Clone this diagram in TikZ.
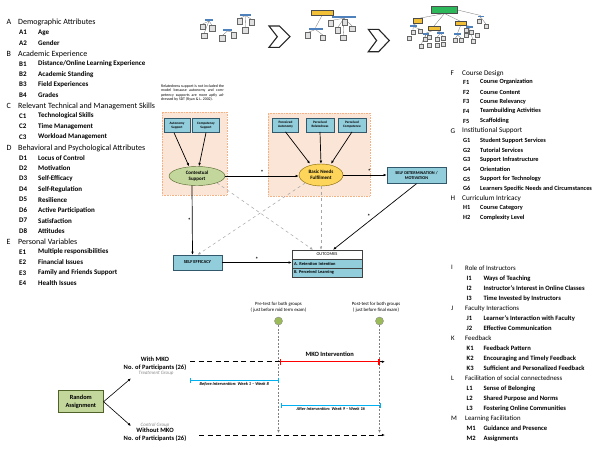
\documentclass[tikz,border=0pt]{standalone}
\usepackage{fontspec}
\setmainfont{Carlito}
\usetikzlibrary{arrows.meta, shapes.geometric}

\definecolor{peach}{HTML}{FBE5D6}
\definecolor{peachline}{HTML}{F4B183}
\definecolor{boxblue}{HTML}{92CDDC}
\definecolor{boxline}{HTML}{31596B}
\definecolor{ctxgreen}{HTML}{C3D69B}
\definecolor{ctxline}{HTML}{4F6228}
\definecolor{needyellow}{HTML}{FCD55A}
\definecolor{needline}{HTML}{7F6000}
\definecolor{barblue}{HTML}{4F81BD}
\definecolor{baryellow}{HTML}{F2C037}
\definecolor{bargreen}{HTML}{2EB85C}
\definecolor{periodcyan}{HTML}{00B0F0}
\definecolor{testgreen}{HTML}{9BBB59}

\begin{document}
\begin{tikzpicture}[
        x=1pt, y=-1pt,
        >={Latex[length=3.2pt,width=2.6pt]},
        head/.style={anchor=west, inner sep=0pt, font=\fontsize{8}{9}\selectfont},
        item/.style={anchor=west, inner sep=0pt, font=\fontsize{7}{8}\selectfont\bfseries},
        rhead/.style={head, font=\fontsize{7.2}{8}\selectfont},
        ritem/.style={item, font=\fontsize{6.3}{7}\selectfont\bfseries},
        lhead/.style={head, font=\fontsize{6.8}{7.5}\selectfont},
        litem/.style={item, font=\fontsize{6.6}{7.5}\selectfont\bfseries},
        minibox/.style={draw=black!60, fill=black!12, line width=0.5pt},
        minibar/.style={fill=barblue},
        twig/.style={draw=black!55, line width=0.3pt},
        chevron/.style={draw=black!85, fill=white, line width=1.1pt, line join=miter},
        region/.style={rectangle, draw=peachline, fill=peach, densely dotted, line width=0.6pt},
        note/.style={anchor=north west, inner sep=0pt, text width=63pt, align=justify, font=\fontsize{3.9}{4.5}\selectfont},
        pbox/.style={rectangle, draw=boxline, fill=boxblue, minimum height=14, inner sep=0.5pt, align=center, font=\fontsize{3.4}{4}\selectfont\bfseries},
        obox/.style={rectangle, draw=boxline, fill=boxblue, inner sep=0.5pt, align=center, font=\fontsize{4.3}{5}\selectfont\bfseries},
        ctxnode/.style={ellipse, draw=ctxline, fill=ctxgreen, inner sep=0pt, align=center, font=\fontsize{5}{5.8}\selectfont\bfseries},
        neednode/.style={ellipse, draw=needline, fill=needyellow, inner sep=0pt, align=center, font=\fontsize{5}{5.8}\selectfont\bfseries},
        outrow/.style={rectangle, draw=black!75, fill=boxblue, minimum height=9, text width=66pt, inner sep=2pt, align=left, font=\fontsize{4.4}{5}\selectfont\bfseries},
        sig/.style={inner sep=1pt, font=\fontsize{6}{6}\selectfont\bfseries},
        path/.style={->, line width=0.7pt},
        dpath/.style={->, dashed, draw=black!35, line width=0.5pt},
        rand/.style={rectangle, draw=ctxline, fill=ctxgreen, line width=0.6pt, minimum width=45, minimum height=22, align=center, font=\fontsize{6.3}{7.5}\selectfont\bfseries},
        grp/.style={align=center, inner sep=0pt, font=\fontsize{6.5}{8}\selectfont\bfseries},
        tag/.style={inner sep=0pt, text=black!45, font=\fontsize{5}{6}\selectfont\itshape},
        phase/.style={->, line width=1pt, dash pattern=on 5pt off 3.5pt},
        test/.style={circle, draw=black!45, fill=testgreen, minimum size=8, inner sep=0pt},
        testlab/.style={align=center, inner sep=0pt, font=\fontsize{4.8}{6.7}\selectfont},
        vline/.style={->, draw=black!50, line width=0.5pt, dash pattern=on 2pt off 1.5pt},
        mko/.style={{Bar[width=6pt]}-{Bar[width=6pt]}, draw=red, line width=1.3pt},
        period/.style={{Bar[width=5pt]}-{Bar[width=5pt]}, draw=periodcyan, line width=0.9pt},
        periodlab/.style={inner sep=1.5pt, font=\fontsize{4.4}{5}\selectfont\bfseries\itshape}
    ]
        \path[use as bounding box, fill=white] (0,0) rectangle (600,456);

        % left list: factors A-E
        \foreach \k/\t/\y in {A/Demographic Attributes/22, B/Academic Experience/54, C/Relevant Technical and Management Skills/106, D/Behavioral and Psychological Attributes/148, E/Personal Variables/241.5}
            {\node[head] (\k) at (6.5,\y) {\k}; \node[head] (\k-t) at (18,\y) {\t};}
        \foreach \k/\t/\y in {A1/Age/32.5, A2/Gender/43, B1/{Distance/Online Learning Experience}/64, B2/Academic Standing/74.3, B3/Field Experiences/84.5, B4/Grades/95, C1/Technological Skills/116, C2/Time Management/126.5, C3/Workload Management/137, D1/Locus of Control/158, D2/Motivation/168.3, D3/Self-Efficacy/178.7, D4/Self-Regulation/189.3, D5/Resilience/199.7, D6/Active Participation/210.3, D7/Satisfaction/220.7, D8/Attitudes/231, E1/Multiple responsibilities/252, E2/Financial Issues/262.5, E3/Family and Friends Support/273, E4/Health Issues/283.5}
            {\node[item] (\k) at (19,\y) {\k}; \node[item] (\k-t) at (38,\y) {\t};}

        % right list: factors F-H
        \foreach \k/\t/\y in {F/Course Design/73.3, G/Institutional Support/130.7, H/Curriculum Intricacy/198.3}
            {\node[rhead] (\k) at (450.5,\y) {\k}; \node[rhead] (\k-t) at (462,\y) {\t};}
        \foreach \k/\t/\y in {F1/Course Organization/82.3, F2/Course Content/92, F3/Course Relevancy/101.7, F4/Teambuilding Activities/111.3, F5/Scaffolding/121, G1/Student Support Services/140.3, G2/Tutorial Services/150, G3/Support Infrastructure/159.7, G4/Orientation/169.3, G5/Support for Technology/179, G6/Learners Specific Needs and Circumstances/188.5, H1/Course Category/207.7, H2/Complexity Level/217.3}
            {\node[ritem] (\k) at (463,\y) {\k}; \node[ritem] (\k-t) at (480,\y) {\t};}

        % right list: factors I-M
        \foreach \k/\t/\y in {I/Role of Instructors/267.7, J/Faculty Interactions/308.3, K/Feedback/338.3, L/Facilitation of social connectedness/378.3, M/Learning Facilitation/418.3}
            {\node[lhead] (\k) at (451,\y) {\k}; \node[lhead] (\k-t) at (465,\y) {\t};}
        \foreach \k/\t/\y in {I1/Ways of Teaching/278.3, I2/Instructor's Interest in Online Classes/288.3, I3/Time Invested by Instructors/298.3, J1/Learner's Interaction with Faculty/318.3, J2/Effective Communication/328.3, K1/Feedback Pattern/348.3, K2/Encouraging and Timely Feedback/358.3, K3/Sufficient and Personalized Feedback/368.3, L1/Sense of Belonging/388.3, L2/Shared Purpose and Norms/398.3, L3/Fostering Online Communities/408.3, M1/Guidance and Presence/428.3, M2/Assignments/438.3}
            {\node[litem] (\k) at (466.5,\y) {\k}; \node[litem] (\k-t) at (483.3,\y) {\t};}

        % top: grouping icons
        \foreach \a/\b/\c/\d in {209/21/202.75/24, 209/21/212.25/25.5, 209/21/204.25/33, 227.5/31/222.25/35.5, 227.5/31/233.75/32.5, 245.5/15.5/239.75/18.5, 245.5/15.5/251.75/19.5, 245.5/15.5/245.25/27.5, 322/15.5/315.5/27.5, 344/18.3/330.75/20.5, 344/18.3/344.75/19.5, 344/18.3/337.75/27.5, 344/18.3/352.25/26, 344/18.3/343.25/35, 315.5/29.5/307.75/32.5, 315.5/29.5/322.75/35}
            \draw[twig] (\a,\b) -- (\c,\d);
        \foreach \a/\b in {200/24, 209.5/25.5, 201.5/33, 219.5/35.5, 231/32.5, 237/18.5, 249/19.5, 242.5/27.5, 328/20.5, 342/19.5, 335/27.5, 349.5/26, 340.5/35, 305/32.5, 320/35}
            \draw[minibox] (\a,\b) rectangle +(5.5,5.5);
        \foreach \a/\b/\w in {205/19/8, 223/29/9, 240/13.5/11, 332/16/24, 308.5/27.5/14}
            \fill[minibar] (\a,\b) rectangle +(\w,2.2);
        \draw[draw=black!70, fill=baryellow] (311,10) rectangle +(22,5.5);
        \draw[chevron] (269,26) -- (279.3,26) -- (290,36.7) -- (279.3,47.3) -- (269,47.3) -- (277.3,36.7) -- cycle;
        \draw[chevron] (368.3,29.3) -- (378.6,29.3) -- (389.3,40.5) -- (378.6,51.7) -- (368.3,51.7) -- (376.6,40.5) -- cycle;
        \foreach \a/\b/\c/\d in {444.5/13.5/418/18.5, 444.5/13.5/434/26, 444.5/13.5/460.75/21.5, 457.5/10/480.75/15.5, 418/23/413.25/25, 434/30/425.75/33.3, 434/30/440.25/31.7, 460.75/25/457.5/33.3, 460.75/25/469.25/26, 413.25/26.7/413/30, 413.25/26.7/419.7/29, 425.75/35/425.3/37.3, 425.75/35/421.3/44, 440.25/33.3/437/37.3, 440.25/33.3/442.7/36, 457.5/35/455.3/38.3, 457.5/35/461.3/38.3, 469.25/27.3/466/28.3, 469.25/27.3/472.7/39.3, 480.75/17.3/479.5/19.3, 480.75/17.3/486/24}
            \draw[twig] (\a,\b) -- (\c,\d);
        \foreach \a/\b in {411/30, 417.7/29, 406.7/36.5, 423.3/37.3, 427.3/35, 419.3/44, 427.3/43.3, 435/37.3, 440.7/36, 435/42.7, 440.7/41.7, 453.3/38.3, 459.3/38.3, 464/28.3, 469.3/30, 464/33.3, 470.7/39.3, 475/32.7, 477.3/19.3, 484/24}
            \draw[minibox, line width=0.4pt] (\a,\b) rectangle +(4,4);
        \foreach \a/\b/\w in {477.5/15.5/6.5, 410/25/6.5, 422.5/33.3/6.5, 436.5/31.7/7.5, 454.3/33.3/6.5, 466/26/6.5}
            \fill[minibar] (\a,\b) rectangle +(\w,1.8);
        \foreach \a/\b/\w/\h in {413.5/18.5/9/4.5, 428/26/12/4, 455/21.5/11.5/3.5}
            \draw[draw=black!70, fill=baryellow, line width=0.4pt] (\a,\b) rectangle +(\w,\h);
        \draw[draw=black!70, fill=bargreen, line width=0.5pt] (431.5,6) rectangle +(26,7.5);

        % model: regions and note
        \node[region, minimum width=65, minimum height=83] (ctxreg) at (194.5,153.5) {};
        \node[region, minimum width=102, minimum height=83] (needreg) at (319,154.5) {};
        \node[note] (relnote) at (161,84.5) {Relatedness support is not included the model because autonomy and competency supports are more aptly addressed by SDT (Ryan \& L. 2002).};

        % model: constructs
        \node[pbox, minimum width=26] (asup) at (177,125.5) {Autonomy\\Support};
        \node[pbox, minimum width=27] (csup) at (206,125.5) {Competency\\Support};
        \node[pbox, minimum width=26] (pauto) at (285.5,124.7) {Perceived\\Autonomy};
        \node[pbox, minimum width=28] (prel) at (320,124.7) {Perceived\\Relatedness};
        \node[pbox, minimum width=28] (pcomp) at (352,124.7) {Perceived\\Competence};
        \node[ctxnode, minimum width=56, minimum height=19] (ctx) at (197,176) {Contextual\\Support};
        \node[neednode, minimum width=44, minimum height=22] (bnf) at (321,175) {Basic Needs\\Fulfilment};
        \node[obox, minimum width=59, minimum height=16] (sdm) at (416.5,175.5) {SELF DETERMINATION /\\MOTIVATION};
        \node[obox, minimum width=48.5, minimum height=15, font=\fontsize{4.6}{5}\selectfont\bfseries] (seff) at (197.5,262.5) {SELF EFFICACY};
        \node[outrow, fill=white, align=center, font=\fontsize{4.4}{5}\selectfont] (out) at (327,254.5) {OUTCOMES};
        \node[outrow] (outA) at (327,263.5) {A. Retention Intention};
        \node[outrow] (outB) at (327,272.5) {B. Perceived Learning};

        % model: paths
        \draw[path] ([xshift=-3pt]asup.south) -- ([xshift=-8pt]ctx.north);
        \draw[path] (csup.south) -- ([xshift=2pt]ctx.north);
        \draw[path] (pauto.south) -- ([xshift=-11pt]bnf.north);
        \draw[path] (prel.south) -- (bnf.north);
        \draw[path] (pcomp.south) -- ([xshift=10pt]bnf.north);
        \draw[path] (ctx.east) -- node[sig, above] {*} (ctx.east -| bnf.west);
        \draw[path] (bnf.east) -- node[sig, above, pos=0.6] {*} (bnf.east -| sdm.west);
        \draw[path] ([xshift=-5pt]ctx.south) -- node[sig, left] {*} ([xshift=-5pt]seff.north);
        \draw[path] (seff.east) -- node[sig, above] {*} (seff.east -| outA.west);
        \draw[path] (sdm.south) -- node[sig, left=3pt] {*} ([xshift=6pt]out.north);
        \draw[dpath] (ctx.south east) -- ([xshift=-14pt]out.north);
        \draw[dpath] (bnf.south west) -- (seff.north);
        \draw[dpath] (bnf.south) -- ([xshift=-6pt]out.north);

        % design: groups
        \node[rand] (rand) at (80.8,401.7) {Random\\Assignment};
        \node[grp] (trt) at (155,363.3) {With MKO\\No. of Participants (26)};
        \node[tag] (trttag) at (156,373.7) {Treatment Group};
        \node[tag] (ctltag) at (155,424.7) {Control Group};
        \node[grp] (ctl) at (155,435) {Without MKO\\No. of Participants (26)};
        \coordinate (trtin) at (131,378.3);
        \coordinate (ctlin) at (131,426);
        \draw[->, line width=0.6pt] (rand.east) -- (trtin);
        \draw[->, line width=0.6pt] (rand.east) -- (ctlin);

        % design: timeline
        \coordinate (trtL) at (190,361.7);
        \coordinate (trtR) at (385,361.7);
        \coordinate (ctlL) at (199,435);
        \coordinate (ctlR) at (385,435);
        \node[test] (pre) at (278.5,321) {};
        \node[test] (post) at (379.5,321) {};
        \node[testlab] (prelab) at (278.5,307.3) {Pre-test for both groups\\( just before mid term exam)};
        \node[testlab] (postlab) at (376,307.3) {Post-test for both groups\\( just before final exam)};
        \draw[vline] (pre.south) -- ([yshift=2pt]pre |- ctlL);
        \draw[vline] (post.south) -- ([yshift=2pt]post |- ctlL);
        \draw[phase] (trtL) -- (trtR);
        \draw[phase] (ctlL) -- (ctlR);
        \draw[mko] ([xshift=1.5pt]pre |- trtL) -- node[above=1.5pt, font=\fontsize{6.5}{7}\selectfont\bfseries] {MKO Intervention} (post |- trtL);
        \coordinate (befL) at (190,380);
        \coordinate (aftL) at (281,405.3);
        \draw[period] (befL) -- node[below, periodlab] {Before Intervention: Week 1 -- Week 8} (pre |- befL);
        \draw[period] (aftL) -- node[below, periodlab] {After Intervention: Week 9 -- Week 16} ([xshift=1pt]post |- aftL);
    \end{tikzpicture}
\end{document}
